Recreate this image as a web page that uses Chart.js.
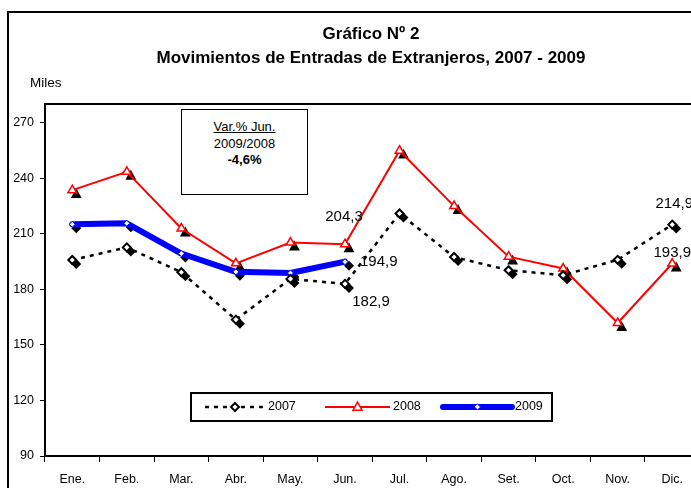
<!DOCTYPE html>
<html>
<head>
<meta charset="utf-8">
<script src="https://cdn.jsdelivr.net/npm/chart.js@4.4.1/dist/chart.umd.min.js"></script>
<style>
  html, body { margin: 0; padding: 0; background: #fff; overflow: hidden; width: 691px; height: 488px;
               font-family: "Liberation Sans", Arial, sans-serif; color: #000; }
  #frame { position: absolute; left: 7px; top: 11px; width: 1000px; height: 1000px;
           border-left: 2px solid #000; border-top: 2px solid #000; }
  #c { position: absolute; left: 0; top: 0; }
  .ttl { position: absolute; left: 0; width: 742px; text-align: center; font-weight: bold; font-size: 17px; }
  #miles { position: absolute; left: 30px; top: 75px; font-size: 13.5px; }
  #var { position: absolute; left: 181px; top: 109px; width: 125px; height: 84px; border: 1.5px solid #000;
         background: #fff; text-align: center; font-size: 13px; line-height: 16.5px; }
</style>
</head>
<body>
<div id="frame"></div>
<canvas id="c" width="712" height="500"></canvas>
<div class="ttl" style="top:24px">Gráfico Nº 2</div>
<div class="ttl" style="top:48px">Movimientos de Entradas de Extranjeros, 2007 - 2009</div>
<div id="miles">Miles</div>
<div id="var">
  <div style="margin-top:9px"><u>Var.% Jun.</u></div>
  <div>2009/2008</div>
  <div><b>-4,6%</b></div>
</div>
<script>
// Entradas de extranjeros por mes, en miles
const months = ['Ene.', 'Feb.', 'Mar.', 'Abr.', 'May.', 'Jun.', 'Jul.', 'Ago.', 'Set.', 'Oct.', 'Nov.', 'Dic.'];
const v2007 = [195.8, 202.6, 189.2, 163.6, 185.6, 182.9, 220.9, 197.4, 190.3, 187.6, 195.9, 214.9];
const v2008 = [233.5, 243.4, 212.8, 194.0, 205.2, 204.3, 254.8, 224.9, 197.6, 191.2, 161.8, 193.9];
const v2009 = [215.1, 215.6, 199.3, 189.4, 188.8, 194.9];
const yTicks = [90, 120, 150, 180, 210, 240, 270];

const FONT = '"Liberation Sans", Arial, sans-serif';

// which points get a value label, and where it sits relative to the point
const valueLabels = [
  { ds: 1, i: 5, dx: -1, dy: -27, align: 'center' },
  { ds: 2, i: 5, dx: 15, dy: 0, align: 'left' },
  { ds: 0, i: 5, dx: 26, dy: 18, align: 'center' },
  { ds: 0, i: 11, dx: 2, dy: -21, align: 'center' },
  { ds: 1, i: 11, dx: 0, dy: -11, align: 'center' }
];

function markerPath(ctx, style, x, y, r) {
  ctx.beginPath();
  if (style === 'triangle') {
    ctx.moveTo(x, y - r);
    ctx.lineTo(x + r * 0.9, y + r * 0.65);
    ctx.lineTo(x - r * 0.9, y + r * 0.65);
  } else {
    ctx.moveTo(x, y - r);
    ctx.lineTo(x + r, y);
    ctx.lineTo(x, y + r);
    ctx.lineTo(x - r, y);
  }
  ctx.closePath();
}

// Excel-style black drop shadow behind every marker
const shadowPlugin = {
  id: 'markerShadow',
  beforeDatasetsDraw(chart) {
    const ctx = chart.ctx;
    ctx.save();
    ctx.fillStyle = '#000';
    chart.data.datasets.forEach((ds, k) => {
      chart.getDatasetMeta(k).data.forEach(pt => {
        markerPath(ctx, ds.pointStyle === 'triangle' ? 'triangle' : 'diamond', pt.x + 4, pt.y + 4, ds.pointStyle === 'triangle' ? 6 : 5);
        ctx.fill();
      });
    });
    ctx.restore();
  }
};

const framePlugin = {
  id: 'plotFrame',
  afterDraw(chart) {
    const { ctx, chartArea: a } = chart;
    ctx.save();
    ctx.strokeStyle = '#000';
    ctx.lineWidth = 2;
    ctx.beginPath();
    ctx.moveTo(a.left - 1, a.top);
    ctx.lineTo(a.right + 20, a.top);
    ctx.stroke();
    ctx.restore();
  }
};

const labelPlugin = {
  id: 'valueLabels',
  afterDatasetsDraw(chart) {
    const ctx = chart.ctx;
    ctx.save();
    ctx.font = '15px ' + FONT;
    ctx.fillStyle = '#000';
    ctx.textBaseline = 'middle';
    valueLabels.forEach(l => {
      const pt = chart.getDatasetMeta(l.ds).data[l.i];
      const v = chart.data.datasets[l.ds].data[l.i];
      ctx.textAlign = l.align;
      ctx.fillText(v.toFixed(1).replace('.', ','), pt.x + l.dx, pt.y + l.dy);
    });
    ctx.restore();
  }
};

const legendPlugin = {
  id: 'boxLegend',
  afterDraw(chart) {
    const ctx = chart.ctx;
    const box = { x: 191, y: 393, w: 361, h: 28 };
    const items = [{ x0: 205, x1: 265 }, { x0: 325, x1: 390 }, { x0: 443, x1: 512 }];
    const cy = box.y + box.h / 2;
    ctx.save();
    ctx.fillStyle = '#fff';
    ctx.fillRect(box.x, box.y, box.w, box.h);
    ctx.strokeStyle = '#000';
    ctx.lineWidth = 2;
    ctx.strokeRect(box.x, box.y, box.w, box.h);
    chart.data.datasets.forEach((ds, k) => {
      const it = items[k];
      ctx.beginPath();
      ctx.setLineDash(ds.borderDash || []);
      ctx.lineWidth = ds.borderWidth;
      ctx.strokeStyle = ds.borderColor;
      ctx.lineCap = k === 2 ? 'round' : 'butt';
      ctx.moveTo(it.x0, cy);
      ctx.lineTo(it.x1, cy);
      ctx.stroke();
      ctx.setLineDash([]);
      markerPath(ctx, ds.pointStyle === 'triangle' ? 'triangle' : 'diamond', (it.x0 + it.x1) / 2, cy, ds.pointRadius);
      ctx.fillStyle = '#fff';
      ctx.fill();
      ctx.lineWidth = ds.pointBorderWidth;
      ctx.strokeStyle = ds.pointBorderColor;
      ctx.stroke();
      ctx.fillStyle = '#000';
      ctx.font = '12.5px ' + FONT;
      ctx.textAlign = 'left';
      ctx.textBaseline = 'middle';
      ctx.fillText(ds.label, it.x1 + 3, cy);
    });
    ctx.restore();
  }
};

new Chart(document.getElementById('c'), {
  type: 'line',
  data: {
    labels: months,
    datasets: [
      { label: '2007', data: v2007, borderColor: '#000', borderWidth: 2.5, borderDash: [4, 5],
        pointStyle: 'rectRot', pointRadius: 4, pointBackgroundColor: '#fff', pointBorderColor: '#000', pointBorderWidth: 2 },
      { label: '2008', data: v2008, borderColor: '#ff0000', borderWidth: 2,
        pointStyle: 'triangle', pointRadius: 5, pointBackgroundColor: '#fff', pointBorderColor: '#ff0000', pointBorderWidth: 1.5 },
      { label: '2009', data: v2009, borderColor: '#0000ff', borderWidth: 6, borderJoinStyle: 'round', borderCapStyle: 'round',
        pointStyle: 'rectRot', pointRadius: 3, pointBackgroundColor: '#fff', pointBorderColor: '#0000ff', pointBorderWidth: 1 }
    ]
  },
  options: {
    responsive: false, animation: false, devicePixelRatio: 1,
    layout: { padding: { top: 104, right: 12.5, left: 0, bottom: 0 } },
    plugins: { legend: { display: false }, tooltip: { enabled: false } },
    elements: { line: { tension: 0 } },
    scales: {
      x: {
        offset: true,
        afterFit: s => { s.height = 44; },
        grid: { offset: true, drawOnChartArea: false, color: '#000', tickLength: 6, lineWidth: 1 },
        border: { color: '#000', width: 2 },
        ticks: { color: '#000', font: { family: FONT, size: 12.5 }, padding: 10, maxRotation: 0, autoSkip: false }
      },
      y: {
        min: 90, max: 280,
        afterFit: s => { s.width = 45; },
        afterBuildTicks: s => { s.ticks = yTicks.map(v => ({ value: v })); },
        grid: { drawOnChartArea: false, color: '#000', tickLength: 5, lineWidth: 1 },
        border: { color: '#000', width: 2 },
        ticks: { color: '#000', font: { family: FONT, size: 12.5 }, padding: 6 }
      }
    }
  },
  plugins: [shadowPlugin, labelPlugin, framePlugin, legendPlugin]
});
</script>
</body>
</html>
